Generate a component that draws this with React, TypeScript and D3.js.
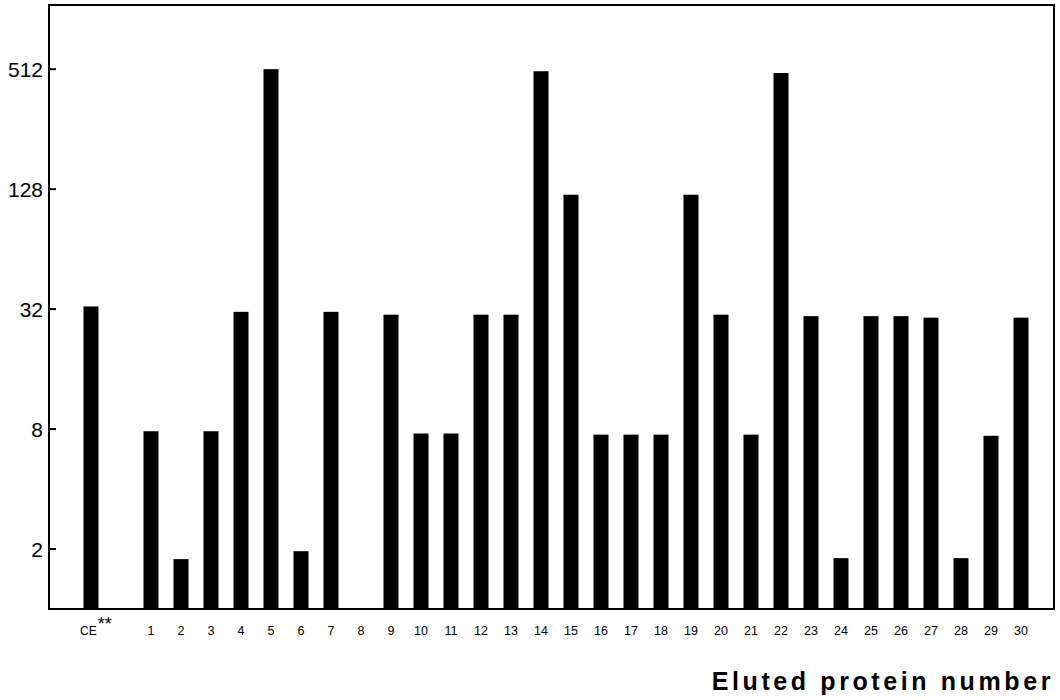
import React from 'react'
import * as d3 from 'd3'

// x categories (an empty slot sits between the control extract and fraction 1)
const categories = ['CE', 'gap', '1', '2', '3', '4', '5', '6', '7', '8', '9', '10', '11', '12', '13', '14', '15',
  '16', '17', '18', '19', '20', '21', '22', '23', '24', '25', '26', '27', '28', '29', '30']

// titre values (1 = no bar)
const titres = [33, 1, 7.8, 1.78, 7.8, 31, 512, 1.95, 31, 1, 30, 7.6, 7.6, 30, 30, 500, 120,
  7.5, 7.5, 7.5, 120, 30, 7.5, 490, 29.5, 1.8, 29.5, 29.5, 29, 1.8, 7.4, 29]

const yTicks = [2, 8, 32, 128, 512]

function App() {
  const width = 1060, height = 700
  const left = 49, right = 1054, top = 5, bottom = 609

  const x = d3.scaleBand()
    .domain(categories)
    .range([76, 1036])
    .paddingInner(0.5)
    .paddingOuter(0.25)

  const y = d3.scaleLog()
    .base(2)
    .domain([1, Math.pow(2, 10.07)])
    .range([bottom, top])

  const data = categories.map((c, i) => ({ key: c, value: titres[i] }))

  return (
    <svg width={width} height={height} style={{ position: 'absolute', left: 0, top: 0, background: '#fff' }}
      fontFamily="'Liberation Sans', Arial, sans-serif">
      <rect x={0} y={0} width={width} height={height} fill="#fff" />
      {/* bars */}
      {data.filter(d => d.key !== 'gap' && d.value > 1).map(d => (
        <rect key={d.key}
          x={x(d.key)}
          y={y(d.value)}
          width={x.bandwidth()}
          height={bottom - y(d.value)}
          fill="#000" />
      ))}
      {/* frame */}
      <rect x={left} y={top} width={right - left} height={bottom - top}
        fill="none" stroke="#000" strokeWidth={2} />
      {/* y ticks */}
      {yTicks.map(t => (
        <g key={t} transform={`translate(0, ${y(t)})`}>
          <line x1={left} x2={left + 7} stroke="#000" strokeWidth={2} />
          <text x={43} dy="0.36em" textAnchor="end" fontSize={21}>{t}</text>
        </g>
      ))}
      {/* x labels */}
      {categories.filter(c => c !== 'gap').map(c => {
        const cx = x(c) + x.bandwidth() / 2
        if (c === 'CE') {
          return (
            <text key={c} x={cx - 11} y={635} fontSize={12}>
              CE<tspan fontSize={18} dy={-5} dx={1}>**</tspan>
            </text>
          )
        }
        return (
          <text key={c} x={cx} y={635} textAnchor="middle" fontSize={12.5}>{c}</text>
        )
      })}
      <text x={1054} y={690} textAnchor="end" fontSize={25} fontWeight="bold" letterSpacing={3.6}>Eluted protein number</text>
    </svg>
  )
}

export default App
